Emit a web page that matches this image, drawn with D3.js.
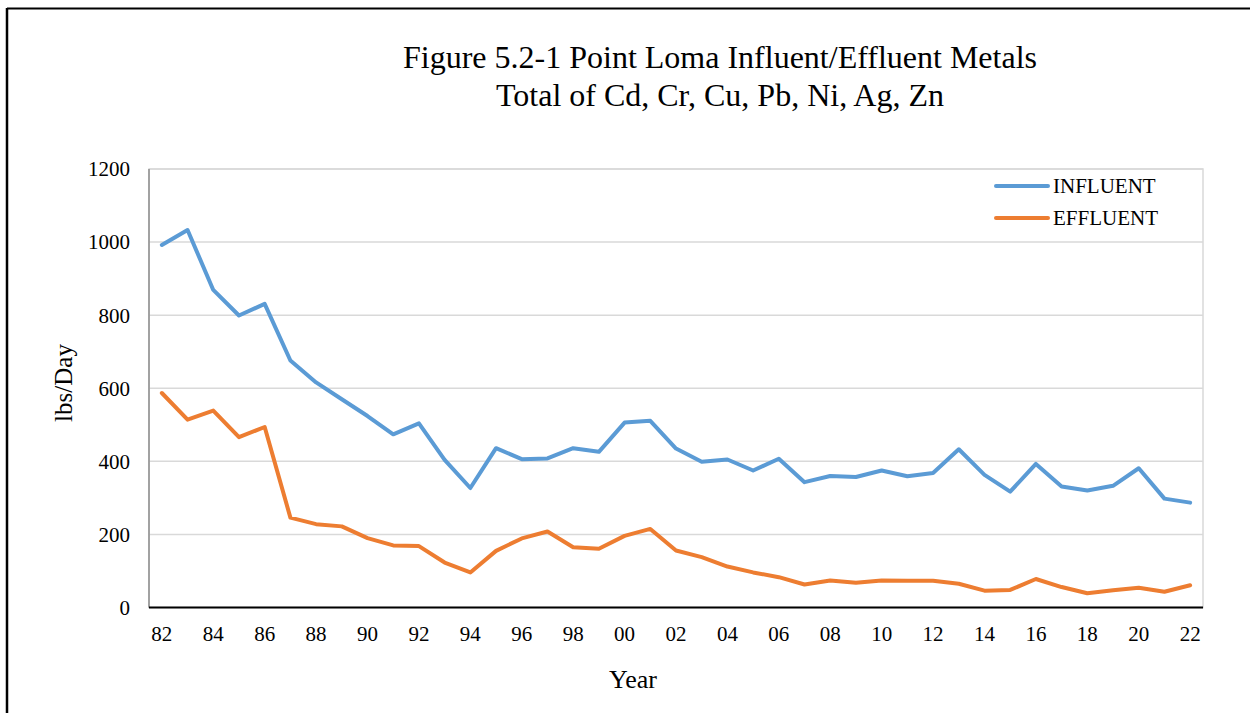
<!DOCTYPE html>
<html>
<head>
<meta charset="utf-8">
<script src="https://cdn.jsdelivr.net/npm/d3@7"></script>
<style>
  body { margin: 0; background: #fff; }
  svg { display: block; font-family: "Liberation Serif", "Times New Roman", serif; }
</style>
</head>
<body>
<svg id="chart" width="1250" height="713"></svg>
<script>
// years shown as 2-digit labels, 1982..2022
var years = ["82","83","84","85","86","87","88","89","90","91","92","93","94","95","96","97","98","99",
  "00","01","02","03","04","05","06","07","08","09","10","11","12","13","14","15","16","17","18","19","20","21","22"];

var influent = [992,1033,869,799,831,676,616,570,524,474,504,404,327,436,406,408,436,426,
  506,511,435,399,405,375,407,343,360,357,375,359,368,433,363,317,393,331,320,333,381,298,287];

var effluent = [587,514,539,466,494,246,228,222,190,170,168,123,96,155,189,208,165,161,
  196,215,156,138,112,96,83,63,74,68,74,73,73,65,46,48,78,56,39,47,54,43,61];

var yTicks = [0, 200, 400, 600, 800, 1000, 1200];

var seriesNames = ["INFLUENT", "EFFLUENT"];
var seriesColors = ["#5B9BD5", "#ED7D31"];

var svg = d3.select("#chart");

// outer frame of the figure
svg.append("line").attr("x1", 7).attr("x2", 1250).attr("y1", 8.5).attr("y2", 8.5)
  .attr("stroke", "#000").attr("stroke-width", 2);
svg.append("line").attr("x1", 7).attr("x2", 7).attr("y1", 8).attr("y2", 713)
  .attr("stroke", "#000").attr("stroke-width", 2.5);

var margin = { left: 149, right: 1203, top: 169, bottom: 607.5 };

var x = d3.scaleBand()
  .domain(years)
  .range([margin.left, margin.right]);

var y = d3.scaleLinear()
  .domain([0, 1200])
  .range([margin.bottom, margin.top]);

// plot area border (light)
svg.append("rect")
  .attr("x", margin.left).attr("y", margin.top)
  .attr("width", margin.right - margin.left).attr("height", margin.bottom - margin.top)
  .attr("fill", "none").attr("stroke", "#d9d9d9").attr("stroke-width", 1.5);

// gridlines
svg.append("g")
  .selectAll("line")
  .data(yTicks.filter(function (d) { return d > 0; }))
  .enter()
  .append("line")
  .attr("x1", margin.left).attr("x2", margin.right)
  .attr("y1", function (d) { return y(d); })
  .attr("y2", function (d) { return y(d); })
  .attr("stroke", "#d9d9d9").attr("stroke-width", 1.5);

// left axis line
svg.append("line")
  .attr("x1", margin.left).attr("x2", margin.left)
  .attr("y1", margin.top).attr("y2", margin.bottom)
  .attr("stroke", "#8c8c8c").attr("stroke-width", 1.5);

// bottom axis line
svg.append("line")
  .attr("x1", margin.left).attr("x2", margin.right)
  .attr("y1", margin.bottom).attr("y2", margin.bottom)
  .attr("stroke", "#000").attr("stroke-width", 2);

// y labels
svg.append("g")
  .selectAll("text")
  .data(yTicks)
  .enter()
  .append("text")
  .attr("x", 130)
  .attr("y", function (d) { return y(d); })
  .attr("dy", "0.35em")
  .attr("text-anchor", "end")
  .style("font-size", "21px")
  .text(function (d) { return d; });

// x labels, every other year
svg.append("g")
  .selectAll("text")
  .data(years.filter(function (d, i) { return i % 2 === 0; }))
  .enter()
  .append("text")
  .attr("x", function (d) { return x(d) + x.bandwidth() / 2; })
  .attr("y", 634)
  .attr("dy", "0.35em")
  .attr("text-anchor", "middle")
  .style("font-size", "21px")
  .text(function (d) { return d; });

// lines
var line = d3.line()
  .x(function (d, i) { return x(years[i]) + x.bandwidth() / 2; })
  .y(function (d) { return y(d); });

[influent, effluent].forEach(function (data, k) {
  svg.append("path")
    .datum(data)
    .attr("d", line)
    .attr("fill", "none")
    .attr("stroke", seriesColors[k])
    .attr("stroke-width", 4)
    .attr("stroke-linejoin", "round")
    .attr("stroke-linecap", "round");
});

// legend
var legend = svg.append("g")
  .selectAll("g")
  .data(seriesNames)
  .enter()
  .append("g")
  .attr("transform", function (d, i) { return "translate(0," + (186 + i * 32) + ")"; });

legend.append("line")
  .attr("x1", 996).attr("x2", 1048).attr("y1", 0).attr("y2", 0)
  .attr("stroke", function (d, i) { return seriesColors[i]; })
  .attr("stroke-width", 4)
  .attr("stroke-linecap", "round");

legend.append("text")
  .attr("x", 1053).attr("y", 0).attr("dy", "0.35em")
  .style("font-size", "21px")
  .text(function (d) { return d; });

// titles
svg.append("text")
  .attr("x", 720).attr("y", 57).attr("dy", "0.35em")
  .attr("text-anchor", "middle")
  .style("font-size", "32px")
  .text("Figure 5.2-1 Point Loma Influent/Effluent Metals");

svg.append("text")
  .attr("x", 720).attr("y", 95).attr("dy", "0.35em")
  .attr("text-anchor", "middle")
  .style("font-size", "32px")
  .text("Total of Cd, Cr, Cu, Pb, Ni, Ag, Zn");

svg.append("text")
  .attr("x", 633).attr("y", 679).attr("dy", "0.35em")
  .attr("text-anchor", "middle")
  .style("font-size", "26px")
  .text("Year");

svg.append("text")
  .attr("transform", "translate(63,383) rotate(-90)")
  .attr("dy", "0.35em")
  .attr("text-anchor", "middle")
  .style("font-size", "25px")
  .text("lbs/Day");
</script>
</body>
</html>
